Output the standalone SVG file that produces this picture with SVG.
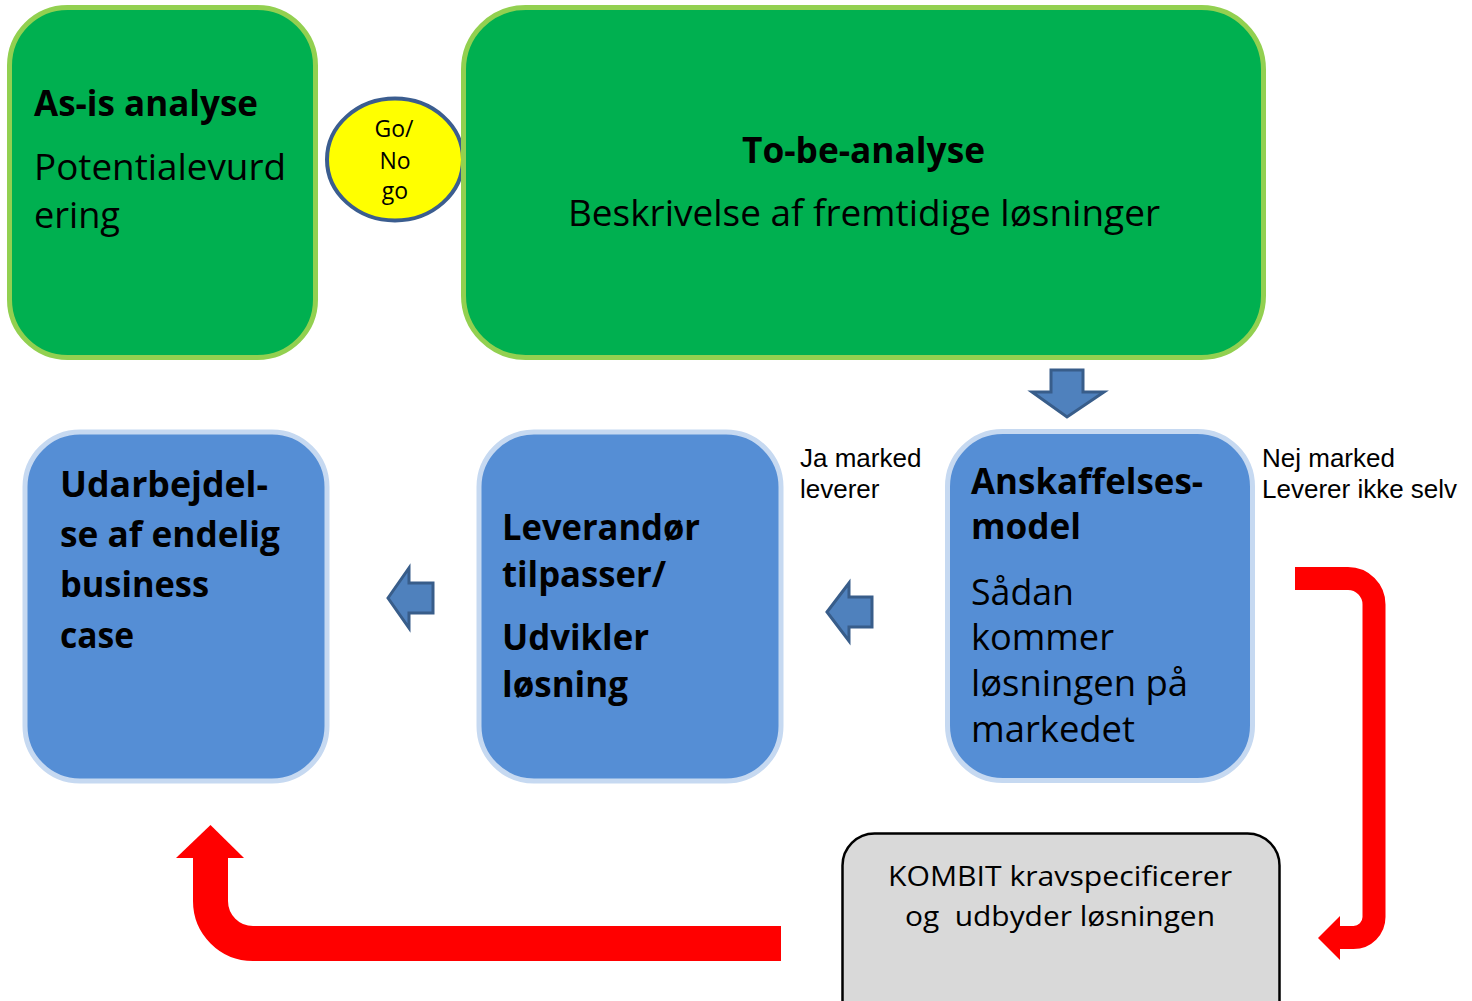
<svg xmlns="http://www.w3.org/2000/svg" width="1472" height="1001" viewBox="0 0 1472 1001">
<style>
.green{fill:#00B050;stroke:#92D050;stroke-width:5}
.blue{fill:#558ED5;stroke:#C6D9F1;stroke-width:5}
.gray{fill:#D9D9D9;stroke:#000;stroke-width:2.5}
.t{font-family:"Open Sans","Noto Sans",sans-serif;fill:#000}
.b{font-weight:bold}
.big{font-size:36px}
.lbl{font-family:"Liberation Sans",Arial,sans-serif;font-size:26px;fill:#000}
.barrow{fill:#4F81BD;stroke:#385D8A;stroke-width:3;stroke-linejoin:miter}
.red{fill:none;stroke:#FF0000}
.redhead{fill:#FF0000}
</style>
<rect width="1472" height="1001" fill="#fff"/>
<g id="asis">
<rect class="green" x="9.5" y="7.5" width="306" height="350" rx="58"/>
<text class="t b big" x="34" y="116" textLength="224" lengthAdjust="spacingAndGlyphs">As-is analyse</text>
<text class="t big" x="34" y="180" textLength="252" lengthAdjust="spacingAndGlyphs">Potentialevurd</text>
<text class="t big" x="34" y="228" textLength="86" lengthAdjust="spacingAndGlyphs">ering</text>
</g>
<g id="gonogo">
<ellipse cx="395" cy="159.5" rx="68" ry="61" fill="#FFFF00" stroke="#3B5D8F" stroke-width="4"/>
<text class="t" font-size="23" text-anchor="middle" x="394" y="137">Go/</text>
<text class="t" font-size="23" text-anchor="middle" x="395" y="169">No</text>
<text class="t" font-size="23" text-anchor="middle" x="395" y="199">go</text>
</g>
<g id="tobe">
<rect class="green" x="463.5" y="7.5" width="800" height="350" rx="62"/>
<text class="t b big" x="742" y="163" textLength="243" lengthAdjust="spacingAndGlyphs">To-be-analyse</text>
<text class="t big" x="568" y="226" textLength="592" lengthAdjust="spacingAndGlyphs">Beskrivelse af fremtidige løsninger</text>
</g>
<g id="udarbejdelse">
<rect class="blue" x="25" y="432" width="302" height="349" rx="55"/>
<text class="t b big" x="60" y="497" textLength="208" lengthAdjust="spacingAndGlyphs">Udarbejdel-</text>
<text class="t b big" x="60" y="547" textLength="220" lengthAdjust="spacingAndGlyphs">se af endelig</text>
<text class="t b big" x="60" y="597" textLength="149" lengthAdjust="spacingAndGlyphs">business</text>
<text class="t b big" x="60" y="648" textLength="74" lengthAdjust="spacingAndGlyphs">case</text>
</g>
<g id="leverandoer">
<rect class="blue" x="479" y="432" width="302" height="349" rx="55"/>
<text class="t b big" x="502" y="540" textLength="198" lengthAdjust="spacingAndGlyphs">Leverandør</text>
<text class="t b big" x="502" y="587" textLength="164" lengthAdjust="spacingAndGlyphs">tilpasser/</text>
<text class="t b big" x="502" y="650" textLength="147" lengthAdjust="spacingAndGlyphs">Udvikler</text>
<text class="t b big" x="502" y="697" textLength="126" lengthAdjust="spacingAndGlyphs">løsning</text>
</g>
<g id="anskaffelse">
<rect class="blue" x="947.5" y="431.5" width="305" height="349" rx="55"/>
<text class="t b big" x="971" y="494" textLength="232" lengthAdjust="spacingAndGlyphs">Anskaffelses-</text>
<text class="t b big" x="971" y="539" textLength="110" lengthAdjust="spacingAndGlyphs">model</text>
<text class="t big" x="971" y="605" textLength="103" lengthAdjust="spacingAndGlyphs">Sådan</text>
<text class="t big" x="971" y="650" textLength="143" lengthAdjust="spacingAndGlyphs">kommer</text>
<text class="t big" x="971" y="696" textLength="217" lengthAdjust="spacingAndGlyphs">løsningen på</text>
<text class="t big" x="971" y="742" textLength="164" lengthAdjust="spacingAndGlyphs">markedet</text>
</g>
<g id="kombit">
<rect class="gray" x="842.5" y="833.5" width="437" height="200" rx="32"/>
<text class="t" font-size="27" x="888" y="886" textLength="344" lengthAdjust="spacingAndGlyphs">KOMBIT kravspecificerer</text>
<text class="t" font-size="27" x="905" y="926" textLength="310" lengthAdjust="spacingAndGlyphs" xml:space="preserve">og  udbyder løsningen</text>
</g>
<g id="labels">
<text class="lbl" x="800" y="467">Ja marked</text>
<text class="lbl" x="800" y="498">leverer</text>
<text class="lbl" x="1262" y="467">Nej marked</text>
<text class="lbl" x="1262" y="498">Leverer ikke selv</text>
</g>
<g id="connectors">
<polygon class="barrow" points="1051,370 1083,370 1083,392 1104,392 1067,417 1032,392 1051,392"/>
<polygon class="barrow" points="388,598 409,568 409,583 433,583 433,613 409,613 409,628"/>
<polygon class="barrow" points="827,612 849,583 849,597 872,597 872,627 849,627 849,641"/>
<path class="red" stroke-width="23" d="M1295 578.5 H1348 A26 26 0 0 1 1374 604.5 V917 A20.5 20.5 0 0 1 1353.5 937.5 H1338"/>
<polygon class="redhead" points="1340,916 1318,938 1340,960"/>
<path class="red" stroke-width="35" d="M781 943.5 H253 A42.5 42.5 0 0 1 210.5 901 V856"/>
<polygon class="redhead" points="176,858 210.5,825 244,858"/>
</g>
</svg>
